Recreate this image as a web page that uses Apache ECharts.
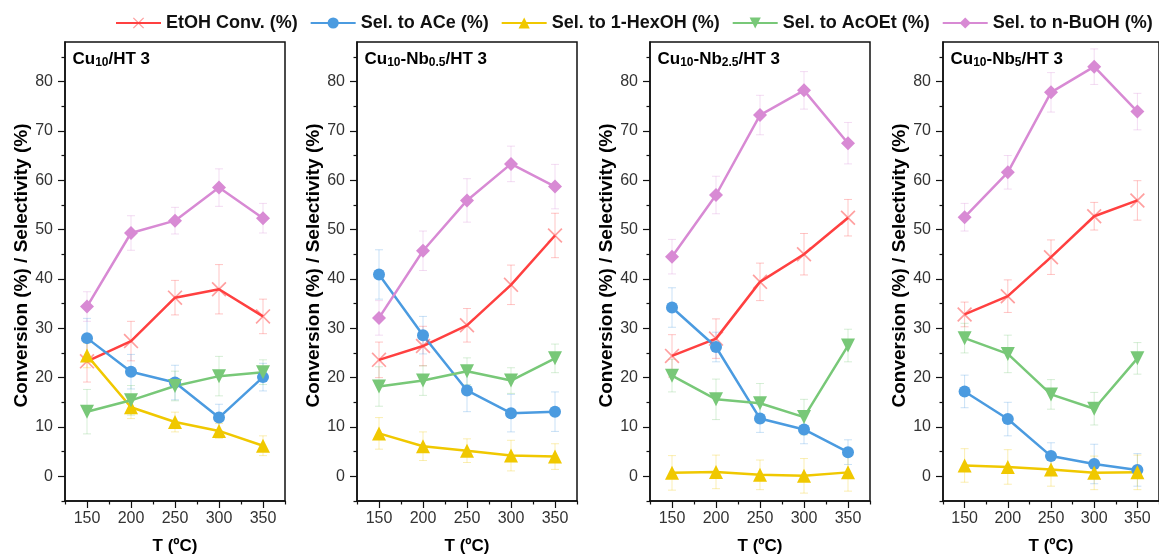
<!DOCTYPE html>
<html><head><meta charset="utf-8">
<script src="https://cdn.jsdelivr.net/npm/echarts@6/dist/echarts.min.js"></script>
<style>html,body{margin:0;padding:0;background:#fff}#c{width:1159px;height:560px}</style>
</head><body><div id="c"></div>
<script>
const temps = [150, 200, 250, 300, 350];
const seriesNames = ['EtOH Conv. (%)', 'Sel. to ACe (%)', 'Sel. to 1-HexOH (%)', 'Sel. to AcOEt (%)', 'Sel. to n-BuOH (%)'];
const yTickLabels = [0, 10, 20, 30, 40, 50, 60, 70, 80];
const yMinorTicks = [-5, 5, 15, 25, 35, 45, 55, 65, 75, 85];
const xTickLabels = [150, 200, 250, 300, 350];
const xMinorTicks = [125, 175, 225, 275, 325, 375];

// Panel 1: Cu10/HT 3
const p1Conv = [23.3, 27.4, 36.2, 37.9, 32.4];
const p1Ace = [28.0, 21.2, 19.0, 11.9, 20.1];
const p1Hex = [24.5, 14.0, 11.0, 9.2, 6.2];
const p1AcOEt = [13.1, 15.4, 18.3, 20.3, 21.1];
const p1BuOH = [34.4, 49.3, 51.8, 58.5, 52.3];
const p1ConvErr = [4.2, 4.0, 3.5, 5.0, 3.5];
const p1AceErr = [4.0, 3.5, 3.5, 2.7, 2.8];
const p1HexErr = [2.5, 2.3, 2.0, 1.5, 2.0];
const p1AcOEtErr = [4.5, 3.0, 3.0, 4.0, 2.5];
const p1BuOHErr = [3.0, 3.5, 2.7, 3.8, 3.0];

// Panel 2: Cu10-Nb0.5/HT 3
const p2Conv = [23.6, 26.4, 30.6, 38.8, 48.8];
const p2Ace = [40.9, 28.6, 17.4, 12.8, 13.1];
const p2Hex = [8.7, 6.1, 5.2, 4.2, 4.0];
const p2AcOEt = [18.2, 19.4, 21.3, 19.4, 23.9];
const p2BuOH = [32.1, 45.7, 55.9, 63.3, 58.7];
const p2ConvErr = [3.6, 4.0, 3.4, 4.0, 4.5];
const p2AceErr = [5.0, 3.8, 4.3, 3.8, 4.0];
const p2HexErr = [3.2, 2.9, 2.4, 3.1, 2.6];
const p2AcOEtErr = [4.0, 3.0, 2.7, 2.6, 2.9];
const p2BuOHErr = [3.5, 4.0, 4.4, 3.6, 4.5];

// Panel 3: Cu10-Nb2.5/HT 3
const p3Conv = [24.4, 27.9, 39.4, 45.0, 52.4];
const p3Ace = [34.2, 26.2, 11.7, 9.5, 4.9];
const p3Hex = [0.7, 0.9, 0.3, 0.1, 0.8];
const p3AcOEt = [20.4, 15.6, 14.8, 12.0, 26.5];
const p3BuOH = [44.5, 57.0, 73.2, 78.2, 67.5];
const p3ConvErr = [4.3, 4.0, 3.8, 4.2, 3.7];
const p3AceErr = [4.0, 3.0, 2.8, 2.9, 2.5];
const p3HexErr = [3.5, 3.4, 3.0, 3.5, 3.8];
const p3AcOEtErr = [3.3, 4.1, 4.0, 3.6, 3.3];
const p3BuOHErr = [3.5, 3.8, 4.0, 3.8, 4.2];

// Panel 4: Cu10-Nb5/HT 3
const p4Conv = [32.8, 36.5, 44.4, 52.7, 55.9];
const p4Ace = [17.2, 11.6, 4.1, 2.5, 1.3];
const p4Hex = [2.2, 1.9, 1.4, 0.7, 0.8];
const p4AcOEt = [28.0, 24.8, 16.6, 13.7, 23.9];
const p4BuOH = [52.5, 61.6, 77.8, 83.0, 73.9];
const p4ConvErr = [2.5, 3.3, 3.5, 2.8, 4.0];
const p4AceErr = [3.3, 3.4, 2.7, 4.0, 3.3];
const p4HexErr = [3.4, 3.5, 3.4, 3.4, 3.5];
const p4AcOEtErr = [3.0, 3.8, 3.0, 3.3, 3.2];
const p4BuOHErr = [2.8, 3.4, 4.0, 3.6, 3.7];

const panels = [
  { title: '{b|Cu}{s|10}{b|/HT 3}', vals: [p1Conv, p1Ace, p1Hex, p1AcOEt, p1BuOH], errs: [p1ConvErr, p1AceErr, p1HexErr, p1AcOEtErr, p1BuOHErr] },
  { title: '{b|Cu}{s|10}{b|-Nb}{s|0.5}{b|/HT 3}', vals: [p2Conv, p2Ace, p2Hex, p2AcOEt, p2BuOH], errs: [p2ConvErr, p2AceErr, p2HexErr, p2AcOEtErr, p2BuOHErr] },
  { title: '{b|Cu}{s|10}{b|-Nb}{s|2.5}{b|/HT 3}', vals: [p3Conv, p3Ace, p3Hex, p3AcOEt, p3BuOH], errs: [p3ConvErr, p3AceErr, p3HexErr, p3AcOEtErr, p3BuOHErr] },
  { title: '{b|Cu}{s|10}{b|-Nb}{s|5}{b|/HT 3}', vals: [p4Conv, p4Ace, p4Hex, p4AcOEt, p4BuOH], errs: [p4ConvErr, p4AceErr, p4HexErr, p4AcOEtErr, p4BuOHErr] }
];

const colors = ['#ff4040', '#4b9be0', '#f0c800', '#78c878', '#d88ad4'];
const crossPath = 'path://M0,0.8 L0.8,0 L5,4.2 L9.2,0 L10,0.8 L5.8,5 L10,9.2 L9.2,10 L5,5.8 L0.8,10 L0,9.2 L4.2,5 Z';
const symbols = [crossPath, 'circle', 'triangle', 'triangle', 'diamond'];
const symbolSizes = [15, 12, 14, 14, 14];
const symbolRotates = [0, 0, 0, 180, 0];

const gridLefts = [65, 357, 650, 943];
const gridW = 220, gridTop = 42, gridH = 466;
const FONT = 'Liberation Sans';

const grids = [], xAxes = [], yAxes = [], titles = [], series = [];
panels.forEach((p, i) => {
  grids.push({ left: gridLefts[i], top: gridTop, width: gridW, height: gridH, show: true, borderColor: '#111', borderWidth: 1.5, backgroundColor: 'transparent' });
  xAxes.push({
    type: 'value', gridIndex: i, min: 125, max: 375,
    name: 'T (ºC)', nameLocation: 'middle', nameGap: 37,
    nameTextStyle: { fontSize: 17, fontWeight: 'bold', color: '#000', fontFamily: FONT },
    axisLine: { show: true, onZero: false, lineStyle: { color: '#111', width: 1.5 } },
    axisTick: { show: true, inside: false, length: 7, customValues: xTickLabels, lineStyle: { color: '#111', width: 1.2 } },
    axisLabel: { margin: 10, fontSize: 16, color: '#333', fontFamily: FONT, customValues: xTickLabels },
    splitLine: { show: false }
  });
  xAxes.push({
    type: 'value', gridIndex: i, min: 125, max: 375, position: 'bottom',
    axisLine: { show: false, onZero: false },
    axisTick: { show: true, inside: false, length: 3.5, customValues: xMinorTicks, lineStyle: { color: '#111', width: 1.2 } },
    axisLabel: { show: false }, splitLine: { show: false }
  });
  yAxes.push({
    type: 'value', gridIndex: i, min: -5, max: 88,
    name: 'Conversion (%) / Selectivity (%)', nameLocation: 'middle', nameGap: 34,
    nameTextStyle: { fontSize: 19, fontWeight: 'bold', color: '#000', fontFamily: FONT, padding: [0, 0, 0, 12] },
    axisLine: { show: true, onZero: false, lineStyle: { color: '#111', width: 1.5 } },
    axisTick: { show: true, inside: false, length: 7, customValues: yTickLabels, lineStyle: { color: '#111', width: 1.2 } },
    axisLabel: { margin: 12, fontSize: 16, color: '#333', fontFamily: FONT, customValues: yTickLabels },
    splitLine: { show: false }
  });
  yAxes.push({
    type: 'value', gridIndex: i, min: -5, max: 88, position: 'left',
    axisLine: { show: false, onZero: false },
    axisTick: { show: true, inside: false, length: 3.5, customValues: yMinorTicks, lineStyle: { color: '#111', width: 1.2 } },
    axisLabel: { show: false }, splitLine: { show: false }
  });
  titles.push({
    text: p.title, left: gridLefts[i] + 7.5, top: 49, padding: 0,
    textStyle: { rich: {
      b: { fontSize: 17, fontWeight: 'bold', color: '#000', fontFamily: FONT, lineHeight: 20, verticalAlign: 'middle' },
      s: { fontSize: 12, fontWeight: 'bold', color: '#000', fontFamily: FONT, lineHeight: 20, verticalAlign: 'bottom', padding: [8, 0, 0, 0] }
    } }
  });
  p.vals.forEach((arr, k) => {
    series.push({
      type: 'custom', xAxisIndex: 2 * i, yAxisIndex: 2 * i, silent: true, z: 1,
      data: temps.map((t, j) => [t, arr[j], p.errs[k][j]]),
      renderItem: (params, api) => {
        const x = api.value(0), y = api.value(1), e = api.value(2);
        const hi = api.coord([x, y + e]), lo = api.coord([x, y - e]);
        const w = 4;
        const st = { stroke: colors[k], lineWidth: 1, opacity: 0.3 };
        return { type: 'group', children: [
          { type: 'line', shape: { x1: hi[0], y1: hi[1], x2: lo[0], y2: lo[1] }, style: st },
          { type: 'line', shape: { x1: hi[0] - w, y1: hi[1], x2: hi[0] + w, y2: hi[1] }, style: st },
          { type: 'line', shape: { x1: lo[0] - w, y1: lo[1], x2: lo[0] + w, y2: lo[1] }, style: st }
        ] };
      }
    });
  });
  p.vals.forEach((arr, k) => {
    series.push({
      type: 'line', name: seriesNames[k], xAxisIndex: 2 * i, yAxisIndex: 2 * i, z: 3,
      data: temps.map((t, j) => [t, arr[j]]),
      symbol: symbols[k], symbolSize: symbolSizes[k], symbolRotate: symbolRotates[k], showAllSymbol: true,
      lineStyle: { color: colors[k], width: 2.5 },
      itemStyle: { color: colors[k], opacity: k === 0 ? 0.5 : 1 },
      emphasis: { disabled: true }, animation: false
    });
  });
});

const chart = echarts.init(document.getElementById('c'), null, { renderer: 'canvas' });
chart.setOption({
  animation: false,
  backgroundColor: '#fff',
  title: titles,
  legend: {
    data: seriesNames, top: 14, left: 115, itemWidth: 45, itemHeight: 14, itemGap: 12, padding: 0,
    textStyle: { fontSize: 18, fontWeight: 'bold', color: '#111', fontFamily: FONT }
  },
  grid: grids, xAxis: xAxes, yAxis: yAxes, series: series
});
</script></body></html>
